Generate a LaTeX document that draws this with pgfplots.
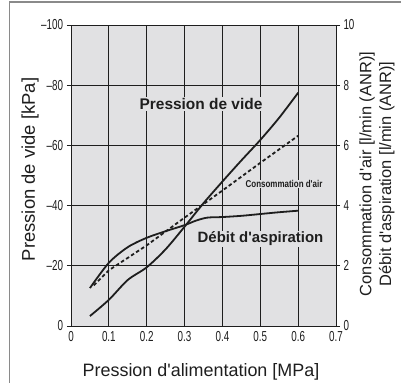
\documentclass[border=0pt]{standalone}
\usepackage{pgfplots}
\pgfplotsset{compat=1.18}
\usepackage{fontspec}
\setmainfont{Liberation Sans}[Ligatures=TeXOff]
\newfontfamily\tickfont{Liberation Sans}[FakeStretch=0.68]
\newfontfamily\narrowbold{Liberation Sans}[FakeStretch=0.8, Ligatures=TeXOff]
\newcommand\tl[1]{{\tickfont\fontsize{14.5}{14.5}\selectfont #1}}
\definecolor{bg}{HTML}{E1E1E3}
\definecolor{ink}{HTML}{1E1E1E}
\definecolor{frame}{HTML}{8A8A8A}
\begin{document}
\begin{tikzpicture}
\useasboundingbox (0bp,0bp) rectangle (401bp,383bp);
\draw[frame, line width=1.4bp] (9.5bp,-1bp) -- (9.5bp,381bp) -- (402bp,381bp);
\begin{axis}[at={(71bp,57bp)}, anchor=south west, scale only axis,
  width=265bp, height=301bp,
  xmin=0, xmax=0.7, ymin=-100, ymax=0, y dir=reverse,
  axis background/.style={fill=bg},
  xtick={0,0.1,...,0.7},
  xticklabels={\tl{0},\tl{0.1},\tl{0.2},\tl{0.3},\tl{0.4},\tl{0.5},\tl{0.6},\tl{0.7}},
  ytick={-100,-80,-60,-40,-20,0},
  yticklabels={\tl{–100},\tl{–80},\tl{–60},\tl{–40},\tl{–20},\tl{0}},
  ytick pos=left, xtick pos=bottom,
  ytick align=outside, xtick align=inside,
  major tick length=4bp,
  grid=major,
  major grid style={ink, line width=0.8bp},
  tick style={ink, line width=0.8bp},
  axis line style={ink, line width=0.9bp},
  tick label style={text=ink},
  xticklabel style={yshift=-2bp},
  yticklabel style={xshift=-0.5bp},
]
\addplot[ink, line width=1.8bp, smooth, tension=0.5] coordinates {
(0.05,-3.3) (0.1,-8.7) (0.15,-15.3) (0.2,-19.5) (0.25,-25.5) (0.3,-33)
(0.35,-40.8) (0.4,-48) (0.45,-55) (0.5,-61.8) (0.55,-69.2) (0.6,-77.5)};
\end{axis}
\begin{axis}[at={(71bp,57bp)}, anchor=south west, scale only axis,
  width=265bp, height=301bp,
  xmin=0, xmax=0.7, ymin=0, ymax=10,
  axis x line=none, axis y line*=right,
  ytick={0,2,...,10},
  yticklabels={\tl{0},\tl{2},\tl{4},\tl{6},\tl{8},\tl{10}},
  ytick align=outside, major tick length=4bp,
  tick style={ink, line width=0.8bp},
  axis line style={ink, line width=0.9bp},
  tick label style={text=ink},
]
\addplot[ink, line width=1.8bp, smooth, tension=0.5] coordinates {
(0.05,1.26) (0.1,2.1) (0.15,2.62) (0.2,2.93) (0.25,3.15) (0.3,3.35)
(0.33,3.5) (0.36,3.6) (0.4,3.62) (0.45,3.66) (0.5,3.72) (0.55,3.78) (0.6,3.83)};
\addplot[ink, line width=1.8bp, dash pattern=on 3.5bp off 2.5bp] coordinates {
(0.06,1.35) (0.1,1.85) (0.2,2.68) (0.3,3.6) (0.4,4.5) (0.5,5.42) (0.6,6.32)};
\end{axis}
\node[fill=bg, inner sep=1bp, text=ink, font=\bfseries\fontsize{15.5}{15.5}\selectfont] at (201bp,279bp) {Pression de vide};
\node[fill=bg, inner sep=1bp, text=ink, font=\bfseries\fontsize{15}{15}\selectfont] at (260.5bp,144bp) {Débit d'aspiration};
\node[fill=bg, inner sep=0.5bp, text=ink, font=\narrowbold\bfseries\fontsize{10}{10}\selectfont] at (284bp,199bp) {Consommation d'air};
\node[text=ink, font=\fontsize{18}{18}\selectfont] at (201bp,11bp) {Pression d'alimentation [MPa]};
\node[text=ink, rotate=90, font=\fontsize{18.5}{18.5}\selectfont] at (30bp,213.5bp) {Pression de vide [kPa]};
\node[text=ink, rotate=90, align=center, font=\fontsize{16.5}{20}\selectfont] at (377bp,209bp) {Consommation d'air [l/min (ANR)]\\Débit d'aspiration [l/min (ANR)]};
\end{tikzpicture}
\end{document}
